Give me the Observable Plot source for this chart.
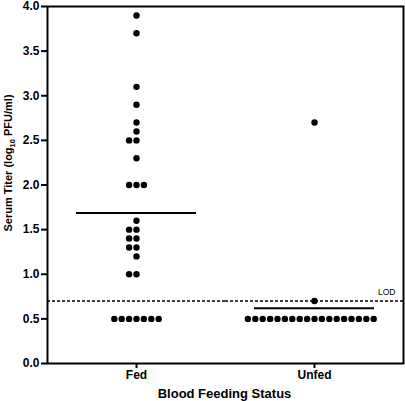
<!DOCTYPE html>
<html>
<head>
<meta charset="utf-8">
<script src="https://cdn.jsdelivr.net/npm/d3@7"></script>
<script src="https://cdn.jsdelivr.net/npm/@observablehq/plot@0.6"></script>
<style>
  html, body { margin: 0; padding: 0; background: white; }
  #chart { width: 405px; height: 401px; }
</style>
</head>
<body>
<div id="chart"></div>
<script>
// ---- data ----
const categories = ["Fed", "Unfed"];
const fedValues = [3.9, 3.7, 3.1, 2.9, 2.7, 2.6, 2.5, 2.5, 2.3, 2.0, 2.0, 2.0,
  1.6, 1.5, 1.5, 1.4, 1.4, 1.3, 1.3, 1.2, 1.0, 1.0,
  0.5, 0.5, 0.5, 0.5, 0.5, 0.5, 0.5];
const unfedValues = [2.7, 0.7,
  0.5, 0.5, 0.5, 0.5, 0.5, 0.5, 0.5, 0.5, 0.5,
  0.5, 0.5, 0.5, 0.5, 0.5, 0.5, 0.5, 0.5, 0.5];
const lod = 0.7;
const yTicks = [0, 0.5, 1, 1.5, 2, 2.5, 3, 3.5, 4];
const xTitle = "Blood Feeding Status";
const yTitleParts = ["Serum Titer (log", "10", " PFU/ml)"];

const fedRows = fedValues.map(v => ({status: categories[0], value: v}));
const unfedRows = unfedValues.map(v => ({status: categories[1], value: v}));
const rows = [...fedRows, ...unfedRows];

const font = "'Liberation Sans', Arial, Helvetica, sans-serif";

const plot = Plot.plot({
  width: 405,
  height: 401,
  marginLeft: 46,
  marginRight: 2,
  marginTop: 6,
  marginBottom: 38,
  style: {fontFamily: font, fontSize: "12px", fontWeight: "bold", background: "white", color: "black", overflow: "visible"},
  fx: {domain: categories, padding: 0, tickSize: 5, tickPadding: 2, label: null},
  y: {domain: [0, 4], ticks: yTicks, tickFormat: d3.format(".1f"), tickSize: 6, tickPadding: 2, label: null},
  marks: [
    Plot.ruleY([lod], {stroke: "black", strokeWidth: 1.5, strokeDasharray: "3,2"}),
    Plot.text([{status: categories[1], value: lod}], {
      fx: "status", y: "value", text: () => "LOD", frameAnchor: "right",
      textAnchor: "end", dx: -8, dy: -9, fontSize: 8.5, fontWeight: "normal", fill: "black"
    }),
    Plot.ruleY(rows, Plot.groupZ({y: "mean"}, {
      fx: "status", y: "value", stroke: "black", strokeWidth: 2, insetLeft: 29, insetRight: 29
    })),
    Plot.dot(fedRows, Plot.dodgeX("middle", {
      fx: "status", y: "value", r: 3.2, padding: 2.1, fill: "black", stroke: "none"
    })),
    Plot.dot(unfedRows, Plot.dodgeX("middle", {
      fx: "status", y: "value", r: 3.2, padding: 0.4, fill: "black", stroke: "none"
    })),
    Plot.frame({facet: "super", stroke: "black", strokeWidth: 2})
  ]
});

const svg = d3.select(plot);
svg.selectAll('g[aria-label$="-axis tick"]').attr("stroke-width", 2);

// axis titles
svg.append("text")
  .attr("x", 46 + (403 - 46) / 2)
  .attr("y", 398)
  .attr("text-anchor", "middle")
  .attr("font-size", 13)
  .attr("font-weight", "bold")
  .attr("fill", "black")
  .text(xTitle);

const yt = svg.append("text")
  .attr("transform", "translate(12,163) rotate(-90)")
  .attr("text-anchor", "middle")
  .attr("font-size", 11)
  .attr("font-weight", "bold")
  .attr("fill", "black");
yt.append("tspan").text(yTitleParts[0]);
yt.append("tspan").attr("font-size", 7.5).attr("dy", 3).text(yTitleParts[1]);
yt.append("tspan").attr("dy", -3).text(yTitleParts[2]);

document.getElementById("chart").appendChild(plot);
</script>
</body>
</html>
